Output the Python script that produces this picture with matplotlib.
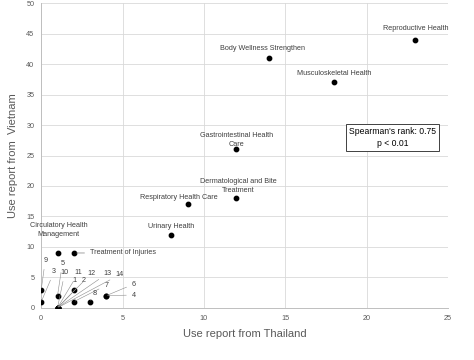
import matplotlib
matplotlib.use("Agg")
import matplotlib.pyplot as plt

plt.rcParams["font.family"] = ["Liberation Sans", "DejaVu Sans"]

# *****  Data  *****
# named use categories (Thailand, Vietnam)
named_cats = ["Reproductive Health", "Body Wellness Strengthen", "Musculoskeletal Health",
              "Gastrointestinal Health\nCare", "Dermatological and Bite\nTreatment",
              "Respiratory Health Care", "Urinary Health", "Circulatory Health\nManagement",
              "Treatment of Injuries"]
named_thai = [23, 14, 18, 12, 12, 9, 8, 1, 2]
named_viet = [44, 41, 37, 26, 18, 17, 12, 9, 9]

# numbered small categories (1..14) and the point each one refers to
num_labels = ["1", "2", "3", "4", "5", "6", "7", "8", "9", "10", "11", "12", "13", "14"]
num_thai = [2, 1, 0, 4, 1, 4, 2, 3, 0, 1, 1, 1, 1, 1]
num_viet = [3, 0, 1, 2, 2, 2, 1, 1, 3, 0, 0, 0, 0, 0]

x_ticks = [0, 5, 10, 15, 20, 25]
y_ticks = [0, 5, 10, 15, 20, 25, 30, 35, 40, 45, 50]

# label placement (data coords), layout only
named_text_pos = [(23, 45.8), (13.6, 42.6), (18, 38.5), (12, 27.5), (12.1, 20.0),
                  (8.45, 18.1), (8.0, 13.4), (1.05, 12.8), (3.0, 9.0)]
num_text_pos = [(2.05, 4.5), (2.6, 4.4), (0.8, 6.0), (5.7, 2.1), (1.3, 7.3),
                (5.7, 3.9), (4.0, 3.7), (3.3, 2.3), (0.25, 7.8), (1.45, 5.8),
                (2.3, 5.8), (3.1, 5.7), (4.1, 5.7), (4.8, 5.4)]

grey = "#595959"
line_grey = "#bfbfbf"

fig, ax = plt.subplots(figsize=(4.74, 3.6), dpi=100)
fig.subplots_adjust(left=0.087, right=0.945, bottom=0.145, top=0.991)

ax.scatter(named_thai + num_thai, named_viet + num_viet, s=10, color="black", zorder=3)

for i, name in enumerate(named_cats):
    tx, ty = named_text_pos[i]
    if name == "Treatment of Injuries":
        ax.annotate(name, xy=(named_thai[i], named_viet[i]), xytext=(tx, ty),
                    fontsize=5.2, color="#404040", ha="left", va="center",
                    arrowprops=dict(arrowstyle="-", color="#7f7f7f", lw=0.5))
    else:
        ax.text(tx, ty, name, fontsize=5.2, color="#404040", ha="center", va="center",
                linespacing=1.4)

for i, lab in enumerate(num_labels):
    tx, ty = num_text_pos[i]
    ax.annotate(lab, xy=(num_thai[i], num_viet[i]), xytext=(tx, ty),
                fontsize=5.2, color="#404040", ha="center", va="center",
                arrowprops=dict(arrowstyle="-", color="#8c8c8c", lw=0.4,
                                shrinkA=2, shrinkB=1))

ax.text(21.6, 27.9, "Spearman's rank: 0.75\np < 0.01", fontsize=6.2, color="black",
        ha="center", va="center", linespacing=1.4,
        bbox=dict(boxstyle="square,pad=0.35", fc="white", ec="#404040", lw=0.7))

ax.set_xlim(0, 25)
ax.set_ylim(0, 50)
ax.set_xticks(x_ticks)
ax.set_yticks(y_ticks)
ax.grid(True, color="#d9d9d9", lw=0.6)
ax.set_axisbelow(True)
for side in ["top", "right"]:
    ax.spines[side].set_visible(False)
for side in ["left", "bottom"]:
    ax.spines[side].set_color(line_grey)
    ax.spines[side].set_linewidth(0.7)
ax.tick_params(length=0, labelsize=5.2, labelcolor=grey, pad=5)
ax.set_xlabel("Use report from Thailand", fontsize=8, color=grey, labelpad=5)
ax.set_ylabel("Use report from  Vietnam", fontsize=8, color=grey, labelpad=6)

fig.savefig("out.png", dpi=100)
